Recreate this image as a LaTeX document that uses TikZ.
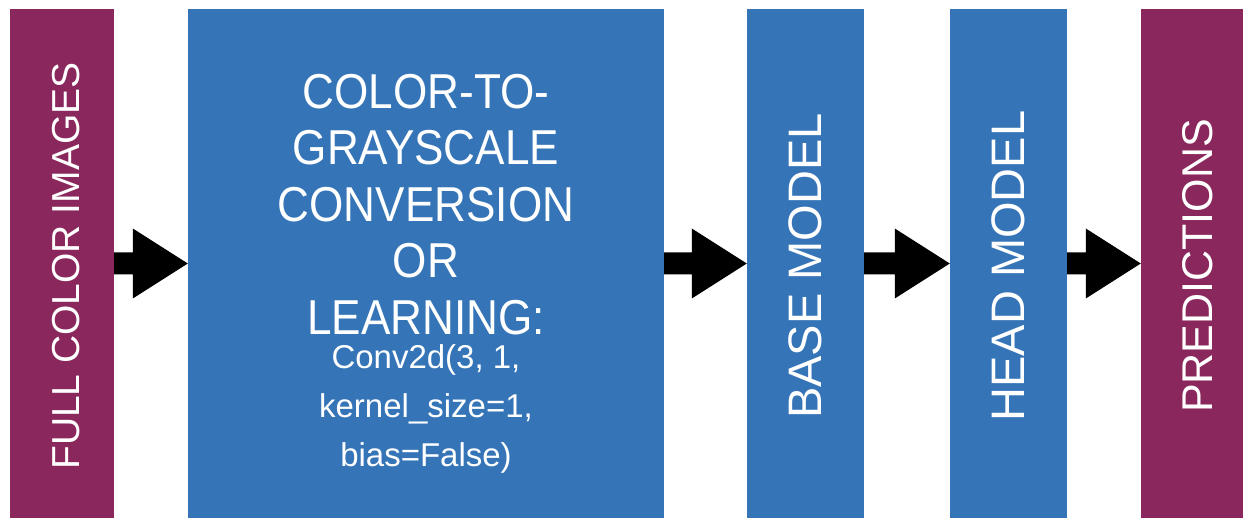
\documentclass[tikz,border=0pt]{standalone}
\usepackage{fontspec}
\setmainfont{Liberation Sans}
\newfontfamily\narrowfont[FakeStretch=0.9]{Liberation Sans}
\usetikzlibrary{calc}
\definecolor{plum}{RGB}{138,39,92}
\definecolor{steel}{RGB}{52,116,183}
\tikzset{
  block/.style={draw=none, inner sep=0pt, minimum height=509pt},
  vlabel/.style={text=white, rotate=90, inner sep=0pt, anchor=center},
  bigtext/.style={text=white, inner sep=0pt, align=center, anchor=north},
}
\newcommand{\blockarrow}[2]{%
  \fill[black] let \p1=(#1.east), \p2=(#2.west) in
    (\x1,\y1-11pt) -- (\x2-55pt,\y1-11pt) -- (\x2-55pt,\y1-35pt) -- (\x2,\y1)
    -- (\x2-55pt,\y1+35pt) -- (\x2-55pt,\y1+11pt) -- (\x1,\y1+11pt) -- cycle;}
\begin{document}
\begin{tikzpicture}[x=1pt,y=-1pt]
\useasboundingbox (0,0) rectangle (1256,526);
\node[block, fill=plum, minimum width=104pt] (img) at (62,263.5) {};
\node[block, fill=steel, minimum width=476pt] (conv) at (426,263.5) {};
\node[block, fill=steel, minimum width=117pt] (base) at (805.5,263.5) {};
\node[block, fill=steel, minimum width=117pt] (head) at (1008.5,263.5) {};
\node[block, fill=plum, minimum width=102pt] (pred) at (1192,263.5) {};

\node[vlabel, font=\fontsize{39}{39}\selectfont] (imgt) at (66,266) {FULL COLOR IMAGES};
\node[vlabel, font=\fontsize{47}{47}\selectfont] (baset) at (805,266) {BASE MODEL};
\node[vlabel, font=\fontsize{47}{47}\selectfont] (headt) at (1008,266) {HEAD MODEL};
\node[vlabel, font=\fontsize{43}{43}\selectfont] (predt) at (1198,266) {PREDICTIONS};

\node[bigtext, font=\narrowfont\fontsize{49}{56.5}\selectfont] (convt) at (426,74)
  {COLOR-TO-\\GRAYSCALE\\CONVERSION\\OR\\LEARNING:};
\node[bigtext, font=\fontsize{33}{49}\selectfont] (convs) at (426,344)
  {Conv2d(3, 1,\\kernel\_size=1,\\bias=False)};

\blockarrow{img}{conv}
\blockarrow{conv}{base}
\blockarrow{base}{head}
\blockarrow{head}{pred}
\end{tikzpicture}
\end{document}
